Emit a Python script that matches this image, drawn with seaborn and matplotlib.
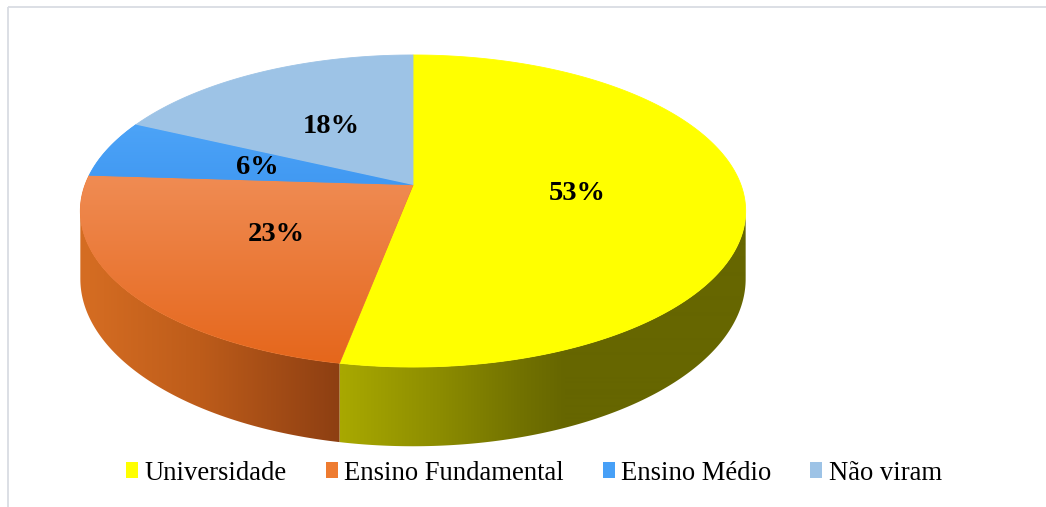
import numpy as np
import matplotlib
matplotlib.use("Agg")
import matplotlib.pyplot as plt
from matplotlib.patches import Polygon, Patch, Rectangle
from matplotlib.colors import to_rgb
import seaborn as sns

# ---------------- data ----------------
categories = ["Universidade", "Ensino Fundamental", "Ensino Médio", "Não viram"]
values = [53, 23, 6, 18]
labels = ["53%", "23%", "6%", "18%"]

# ---------------- style ----------------
top_colors = ["#FFFF00", "#EC7A35", "#47A0F7", "#9DC3E6"]
legend_colors = ["#FFFF00", "#EE7B30", "#47A0F7", "#9DC3E6"]
# side gradients (x stop in pixels, colour)
side_stops = {
    0: [(343, "#A8A800"), (440, "#8C8C00"), (520, "#727200"), (565, "#666600"), (1046, "#666600")],
    1: [(0, "#D66E24"), (90, "#D46C22"), (200, "#BD5C1A"), (343, "#8C3E12")],
}
top_vstops = {1: [(170, "#F08D55"), (365, "#E5661B")],
              2: [(120, "#4DA4F8"), (185, "#4199F2")]}

sns.set_theme(style="white")
plt.rcParams["font.family"] = ["Liberation Serif", "DejaVu Serif"]
plt.rcParams["text.color"] = "black"

W, Hpx = 1046, 507
fig = plt.figure(figsize=(W / 100, Hpx / 100), dpi=100)
ax = fig.add_axes([0, 0, 1, 1])
ax.set_xlim(0, W)
ax.set_ylim(Hpx, 0)
ax.axis("off")

# projection of the tilted disc (perspective)
CX, CY, A, B, K, DEPTH = 413, 185, 328, 151.7, 0.1667, 66


def proj(theta_deg, r=1.0, h=0.0):
    t = np.radians(theta_deg)
    u = r * np.sin(t)
    v = -r * np.cos(t)
    s = 1.0 / (1.0 - K * v)
    return CX + A * u * s, CY + B * v * s + DEPTH * s * h


def grad_image(stops, horizontal=True):
    n = 1046 if horizontal else 507
    pos = np.arange(n) + 0.5
    xs = [p for p, _ in stops]
    cols = np.array([to_rgb(c) for _, c in stops])
    arr = np.stack([np.interp(pos, xs, cols[:, k]) for k in range(3)], axis=-1)
    if horizontal:
        return arr[np.newaxis, :, :]
    return arr[:, np.newaxis, :]


fracs = np.array(values, dtype=float) / np.sum(values)
bounds = np.concatenate([[0], np.cumsum(fracs) * 360.0])

th_r = np.degrees(np.arccos(-K))
th_l = 360.0 - th_r

# ---- sides ----
for i in range(len(values)):
    a, b = max(bounds[i], th_r), min(bounds[i + 1], th_l)
    if b <= a:
        continue
    ts = np.linspace(a, b, 200)
    xt, yt = proj(ts, 1, 0)
    xb, yb = proj(ts[::-1], 1, 1)
    pts = np.column_stack([np.concatenate([xt, xb]), np.concatenate([yt, yb])])
    poly = Polygon(pts, closed=True, facecolor="none", edgecolor="none")
    ax.add_patch(poly)
    img = ax.imshow(grad_image(side_stops[i], True), extent=(0, W, Hpx, 0),
                    origin="upper", aspect="auto", interpolation="bilinear", zorder=1)
    img.set_clip_path(poly)

# ---- top faces ----
for i in range(len(values)):
    ts = np.linspace(bounds[i], bounds[i + 1], 300)
    xa, ya = proj(ts)
    pts = np.column_stack([np.concatenate([[CX], xa]), np.concatenate([[CY], ya])])
    if i in top_vstops:
        poly = Polygon(pts, closed=True, facecolor=top_colors[i], edgecolor=top_colors[i],
                       linewidth=0.6, zorder=2)
        ax.add_patch(poly)
        img = ax.imshow(grad_image(top_vstops[i], False), extent=(0, W, Hpx, 0),
                        origin="upper", aspect="auto", interpolation="bilinear", zorder=2.1)
        img.set_clip_path(poly)
    else:
        ax.add_patch(Polygon(pts, closed=True, facecolor=top_colors[i],
                             edgecolor=top_colors[i], linewidth=0.6, zorder=2))

# ---- labels ----
for i in range(len(values)):
    mid = (bounds[i] + bounds[i + 1]) / 2
    lx, ly = proj(mid, 0.5)
    ax.text(lx, ly + 1, labels[i], ha="center", va="center", fontsize=20.5,
            fontweight="bold", color="black", zorder=5)

# ---- border ----
ax.add_patch(Rectangle((8, 7), 1100, 600, facecolor="none", edgecolor="#D9DCE3",
                       linewidth=1.3, zorder=0))

# ---- legend ----
handles = [Patch(facecolor=c, edgecolor="none") for c in legend_colors]
fig.legend(handles, categories, loc="center", ncol=4, frameon=False, fontsize=19.2,
           bbox_to_anchor=(534 / W, 1 - 473 / Hpx), handlelength=0.45, handleheight=0.5,
           handletextpad=0.25, columnspacing=1.45, borderaxespad=0, labelcolor="black")

fig.savefig("out.png", dpi=100)
